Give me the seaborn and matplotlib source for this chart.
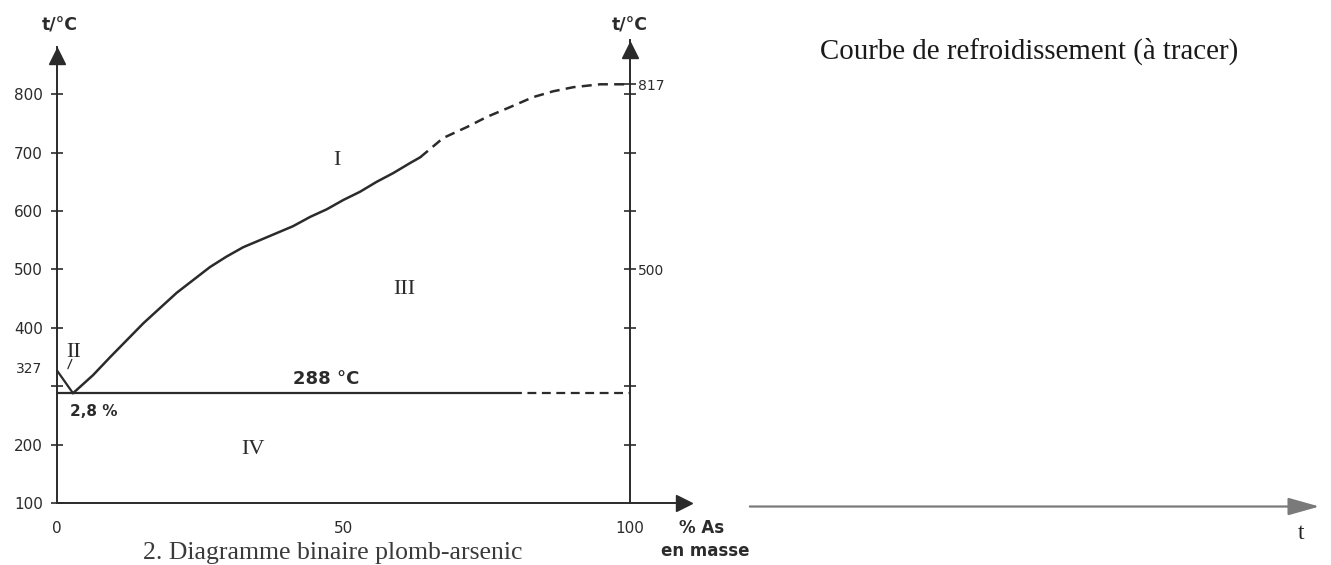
import matplotlib
matplotlib.use("Agg")
import matplotlib.pyplot as plt
import seaborn as sns
import pandas as pd

# ---------------- data ----------------
liq_solid_x = [2.8, 6.3, 9.3, 12.2, 15.1, 18.0, 20.9, 23.8, 26.7, 29.6, 32.5,
               35.4, 38.3, 41.2, 44.2, 47.1, 50.0, 52.9, 55.8, 58.7, 61.6, 63.4]
liq_solid_t = [288, 319, 350, 379, 408, 434, 460, 482, 504, 522, 538,
               550, 562, 574, 590, 603, 619, 633, 650, 665, 682, 692]
liq_dash_x = [63.4, 67.4, 71.6, 75.0, 79.1, 83.1, 86.6, 90.1, 94.8, 100.0]
liq_dash_t = [692, 725, 744, 761, 778, 795, 805, 812, 817, 817]
pb_liq_x = [0.0, 2.8]
pb_liq_t = [327, 288]
eut_solid_x = [0.0, 79.6]
eut_dash_x = [79.6, 100.0]
eut_t = 288

left_ticks = [100, 200, 300, 400, 500, 600, 700, 800]
left_labels = ["100", "200", "", "400", "500", "600", "700", "800"]
right_ticks = [200, 300, 400, 500, 600, 700, 800, 817]
right_labels = ["", "", "", "500", "", "", "", "817"]
x_ticks = [0, 10, 20, 30, 40, 50, 60, 70, 80, 90, 100]
x_labels = ["0", "", "", "", "", "50", "", "", "", "", "100"]

regions = ["I", "II", "III", "IV"]
region_x = [48.9, 2.9, 60.7, 34.2]
region_t = [687, 357, 465, 191]

sns.set_theme(style="white")
plt.rcParams["font.family"] = ["DejaVu Sans"]

INK = "#2b2b2b"
W, H = 1331, 565
fig = plt.figure(figsize=(W / 100, H / 100), dpi=100)

# main diagram axes, placed so that 0 % -> px 57, 100 % -> px 630, 100 C -> py 503, 800 C -> py 94
ax = fig.add_axes([5.4 / W, (H - 543.9) / H, 699 / W, 525.6 / H])
ax.set_xlim(-9, 113)
ax.set_ylim(30, 930)
ax.set_facecolor("none")

solid = pd.DataFrame({"x": liq_solid_x, "t": liq_solid_t})
dash = pd.DataFrame({"x": liq_dash_x, "t": liq_dash_t})
pb = pd.DataFrame({"x": pb_liq_x, "t": pb_liq_t})
eut_s = pd.DataFrame({"x": eut_solid_x, "t": [eut_t] * 2})
eut_d = pd.DataFrame({"x": eut_dash_x, "t": [eut_t] * 2})

sns.lineplot(data=solid, x="x", y="t", ax=ax, color=INK, lw=1.8, sort=False)
sns.lineplot(data=dash, x="x", y="t", ax=ax, color=INK, lw=1.8, sort=False,
             linestyle=(0, (4, 2.5)))
sns.lineplot(data=pb, x="x", y="t", ax=ax, color=INK, lw=1.6, sort=False)
sns.lineplot(data=eut_s, x="x", y="t", ax=ax, color=INK, lw=1.6, sort=False)
sns.lineplot(data=eut_d, x="x", y="t", ax=ax, color=INK, lw=1.6, sort=False,
             linestyle=(0, (4, 2.5)))
ax.plot([2.6, 1.9], [346, 330], color=INK, lw=0.9)

# axes as drawn lines with arrowheads
for s in ["top", "right"]:
    ax.spines[s].set_visible(False)
ax.spines["left"].set_position(("data", 0))
ax.spines["left"].set_bounds(100, 880)
ax.spines["bottom"].set_position(("data", 100))
ax.spines["bottom"].set_bounds(0, 110)
for s in ["left", "bottom"]:
    ax.spines[s].set_color(INK)
    ax.spines[s].set_linewidth(1.4)

ax.set_yticks(left_ticks, left_labels)
ax.set_yticks([332], ["327"], minor=True)
ax.set_xticks(x_ticks, x_labels)
ax.tick_params(axis="y", which="major", direction="inout", length=8, width=1.2,
               color=INK, labelsize=11, labelcolor=INK, pad=6)
ax.tick_params(axis="y", which="minor", length=0, labelsize=10, labelcolor=INK, pad=11)
ax.tick_params(axis="x", direction="inout", length=8, width=1.2, color=INK,
               labelsize=11, labelcolor=INK, pad=9)
ax.set_xlabel("")
ax.set_ylabel("")

axr = ax.twinx()
axr.set_ylim(30, 930)
for s in ["top", "left", "bottom"]:
    axr.spines[s].set_visible(False)
axr.spines["right"].set_position(("data", 100))
axr.spines["right"].set_bounds(100, 893)
axr.spines["right"].set_color(INK)
axr.spines["right"].set_linewidth(1.4)
axr.set_yticks(right_ticks, right_labels)
axr.tick_params(axis="y", direction="inout", length=8, width=1.2, color=INK,
                labelsize=10, labelcolor=INK, pad=2)
axr.grid(False)
for lbl in axr.get_yticklabels():
    if lbl.get_text() == "817":
        lbl.set_y(824)

ax.plot([0], [866], marker="^", ms=11, color=INK, clip_on=False)
ax.plot([100], [876], marker="^", ms=11, color=INK, clip_on=False)
ax.plot([109.5], [100], marker=">", ms=11, color=INK, clip_on=False)

# labels
ax.text(0.4, 918, "t/°C", ha="center", va="center", fontsize=12.5,
        fontweight="bold", color=INK)
ax.text(100, 918, "t/°C", ha="center", va="center", fontsize=12.5,
        fontweight="bold", color=INK)
for r, xx, tt in zip(regions, region_x, region_t):
    ax.text(xx, tt, r, ha="center", va="center", fontsize=16,
            family="Liberation Serif", color=INK)
ax.text(47, 313, "288 °C", ha="center", va="center", fontsize=13,
        fontweight="bold", color=INK)
ax.text(6.5, 257, "2,8 %", ha="center", va="center", fontsize=11,
        fontweight="semibold", color=INK)
ax.text(112.5, 58, "% As", ha="center", va="center", fontsize=12,
        fontweight="bold", color=INK)
ax.text(113.2, 17, "en masse", ha="center", va="center", fontsize=12,
        fontweight="semibold", color=INK)

fig.text(143 / W, 6 / H, "2. Diagramme binaire plomb-arsenic", ha="left",
         va="baseline", fontsize=18.5, family="Liberation Serif", color="#3a3a3a")

# right panel: empty cooling-curve frame
ax2 = fig.add_axes([740 / W, 0.0, (W - 740) / W, 1.0])
ax2.set_xlim(0, 1)
ax2.set_ylim(0, 1)
ax2.axis("off")
ax2.annotate("", xy=(0.985, 0.1035), xytext=(0.012, 0.1035),
             xycoords="axes fraction",
             arrowprops=dict(arrowstyle="-|>,head_length=1.6,head_width=0.45",
                             color="#7a7a7a", lw=1.6))
ax2.text(0.949, 0.055, "t", ha="center", va="center", fontsize=17,
         family="Liberation Serif", color="#222222")
ax2.text(80 / 591, 1 - 51 / 565, "Courbe de refroidissement (à tracer)",
         ha="left", va="center", fontsize=20.8, family="Liberation Serif",
         color="#1a1a1a")

fig.savefig("out.png", dpi=100)
